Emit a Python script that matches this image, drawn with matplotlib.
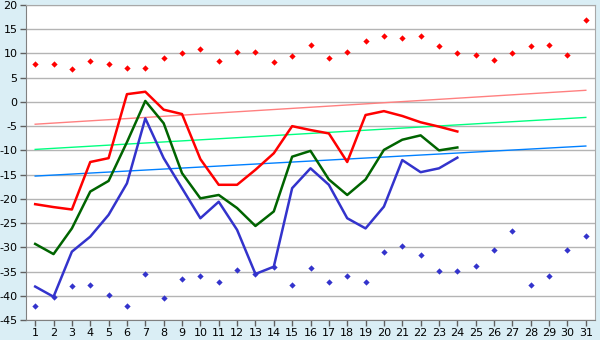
import numpy as np
import matplotlib
matplotlib.use('Agg')
import matplotlib.pyplot as plt

plt.rcParams['axes.unicode_minus'] = False
plt.rcParams['font.family'] = 'DejaVu Sans'

days = np.arange(1, 32)

# daily extremes (markers) for the whole month
top_pts = [7.8, 7.8, 6.7, 8.4, 7.8, 7.1, 7.1, 9.0, 10.0, 11.0,
           8.4, 10.4, 10.4, 8.2, 9.4, 11.7, 9.0, 10.4, 12.5, 13.7,
           13.1, 13.7, 11.5, 10.0, 9.6, 8.6, 10.0, 11.5, 11.7, 9.6, 16.9]
low_pts = [-42.2, -40.2, -38.0, -37.8, -39.9, -42.2, -35.6, -40.5, -36.6, -36.0,
           -37.2, -34.7, -35.6, -34.0, -37.8, -34.3, -37.2, -36.0, -37.2, -31.0,
           -29.8, -31.6, -34.9, -34.9, -33.9, -30.6, -26.7, -37.8, -36.0, -30.6, -27.7]

# observed series, days 1..24
red_line = [-21.1, -21.7, -22.2, -12.4, -11.6, 1.6, 2.1, -1.6, -2.5, -11.8,
            -17.1, -17.1, -14.0, -10.6, -5.0, -5.8, -6.5, -12.4, -2.7, -1.9,
            -2.9, -4.2, -5.1, -6.1]
green_line = [-29.3, -31.4, -26.1, -18.5, -16.3, -8.3, 0.2, -4.4, -14.7, -19.9,
              -19.2, -21.9, -25.6, -22.6, -11.3, -10.1, -16.0, -19.2, -16.0, -9.9,
              -7.8, -6.9, -10.0, -9.4]
blue_line = [-38.1, -40.2, -30.9, -27.8, -23.3, -16.8, -3.4, -11.6, -17.8, -24.0,
             -20.6, -26.4, -35.5, -34.0, -17.8, -13.7, -17.1, -24.0, -26.1, -21.6,
             -12.0, -14.5, -13.7, -11.5]

# trend lines (value at day 1, value at day 31)
trend_days = [1, 31]
red_trend = [-4.6, 2.4]
green_trend = [-9.8, -3.2]
blue_trend = [-15.3, -9.1]

bg = '#daeef5'
fig = plt.figure(figsize=(6, 3.4), dpi=100, facecolor=bg)
ax = fig.add_axes([26 / 600, 1 - 320 / 340, 569 / 600, 315 / 340])
ax.set_facecolor('white')

ax.set_xlim(0.5, 31.5)
ax.set_ylim(-45, 20)
ax.set_yticks(np.arange(-45, 21, 5))
ax.set_xticks(days)
ax.grid(axis='y', color='#b4b4b4', lw=1)
ax.set_axisbelow(True)

ax.plot(trend_days, red_trend, color='#ff8080', lw=1)
ax.plot(trend_days, green_trend, color='#00ff80', lw=1)
ax.plot(trend_days, blue_trend, color='#0080ff', lw=1)

n = len(red_line)
ax.plot(days[:n], red_line, color='#ff0000', lw=1.8)
ax.plot(days[:n], green_line, color='#006400', lw=1.8)
ax.plot(days[:n], blue_line, color='#3333cc', lw=1.8)

ax.plot(days, top_pts, 'D', color='#ff0000', ms=3.2, mew=0)
ax.plot(days, low_pts, 'D', color='#3333cc', ms=3.2, mew=0)

for s in ax.spines.values():
    s.set_color('#a8a8a8')
ax.spines['left'].set_color('#808080')
ax.spines['bottom'].set_color('#808080')
ax.tick_params(axis='both', length=4, width=1, color='#606060',
               labelsize=8, labelcolor='black', pad=2)

fig.savefig('out.png', dpi=100, facecolor=bg)
